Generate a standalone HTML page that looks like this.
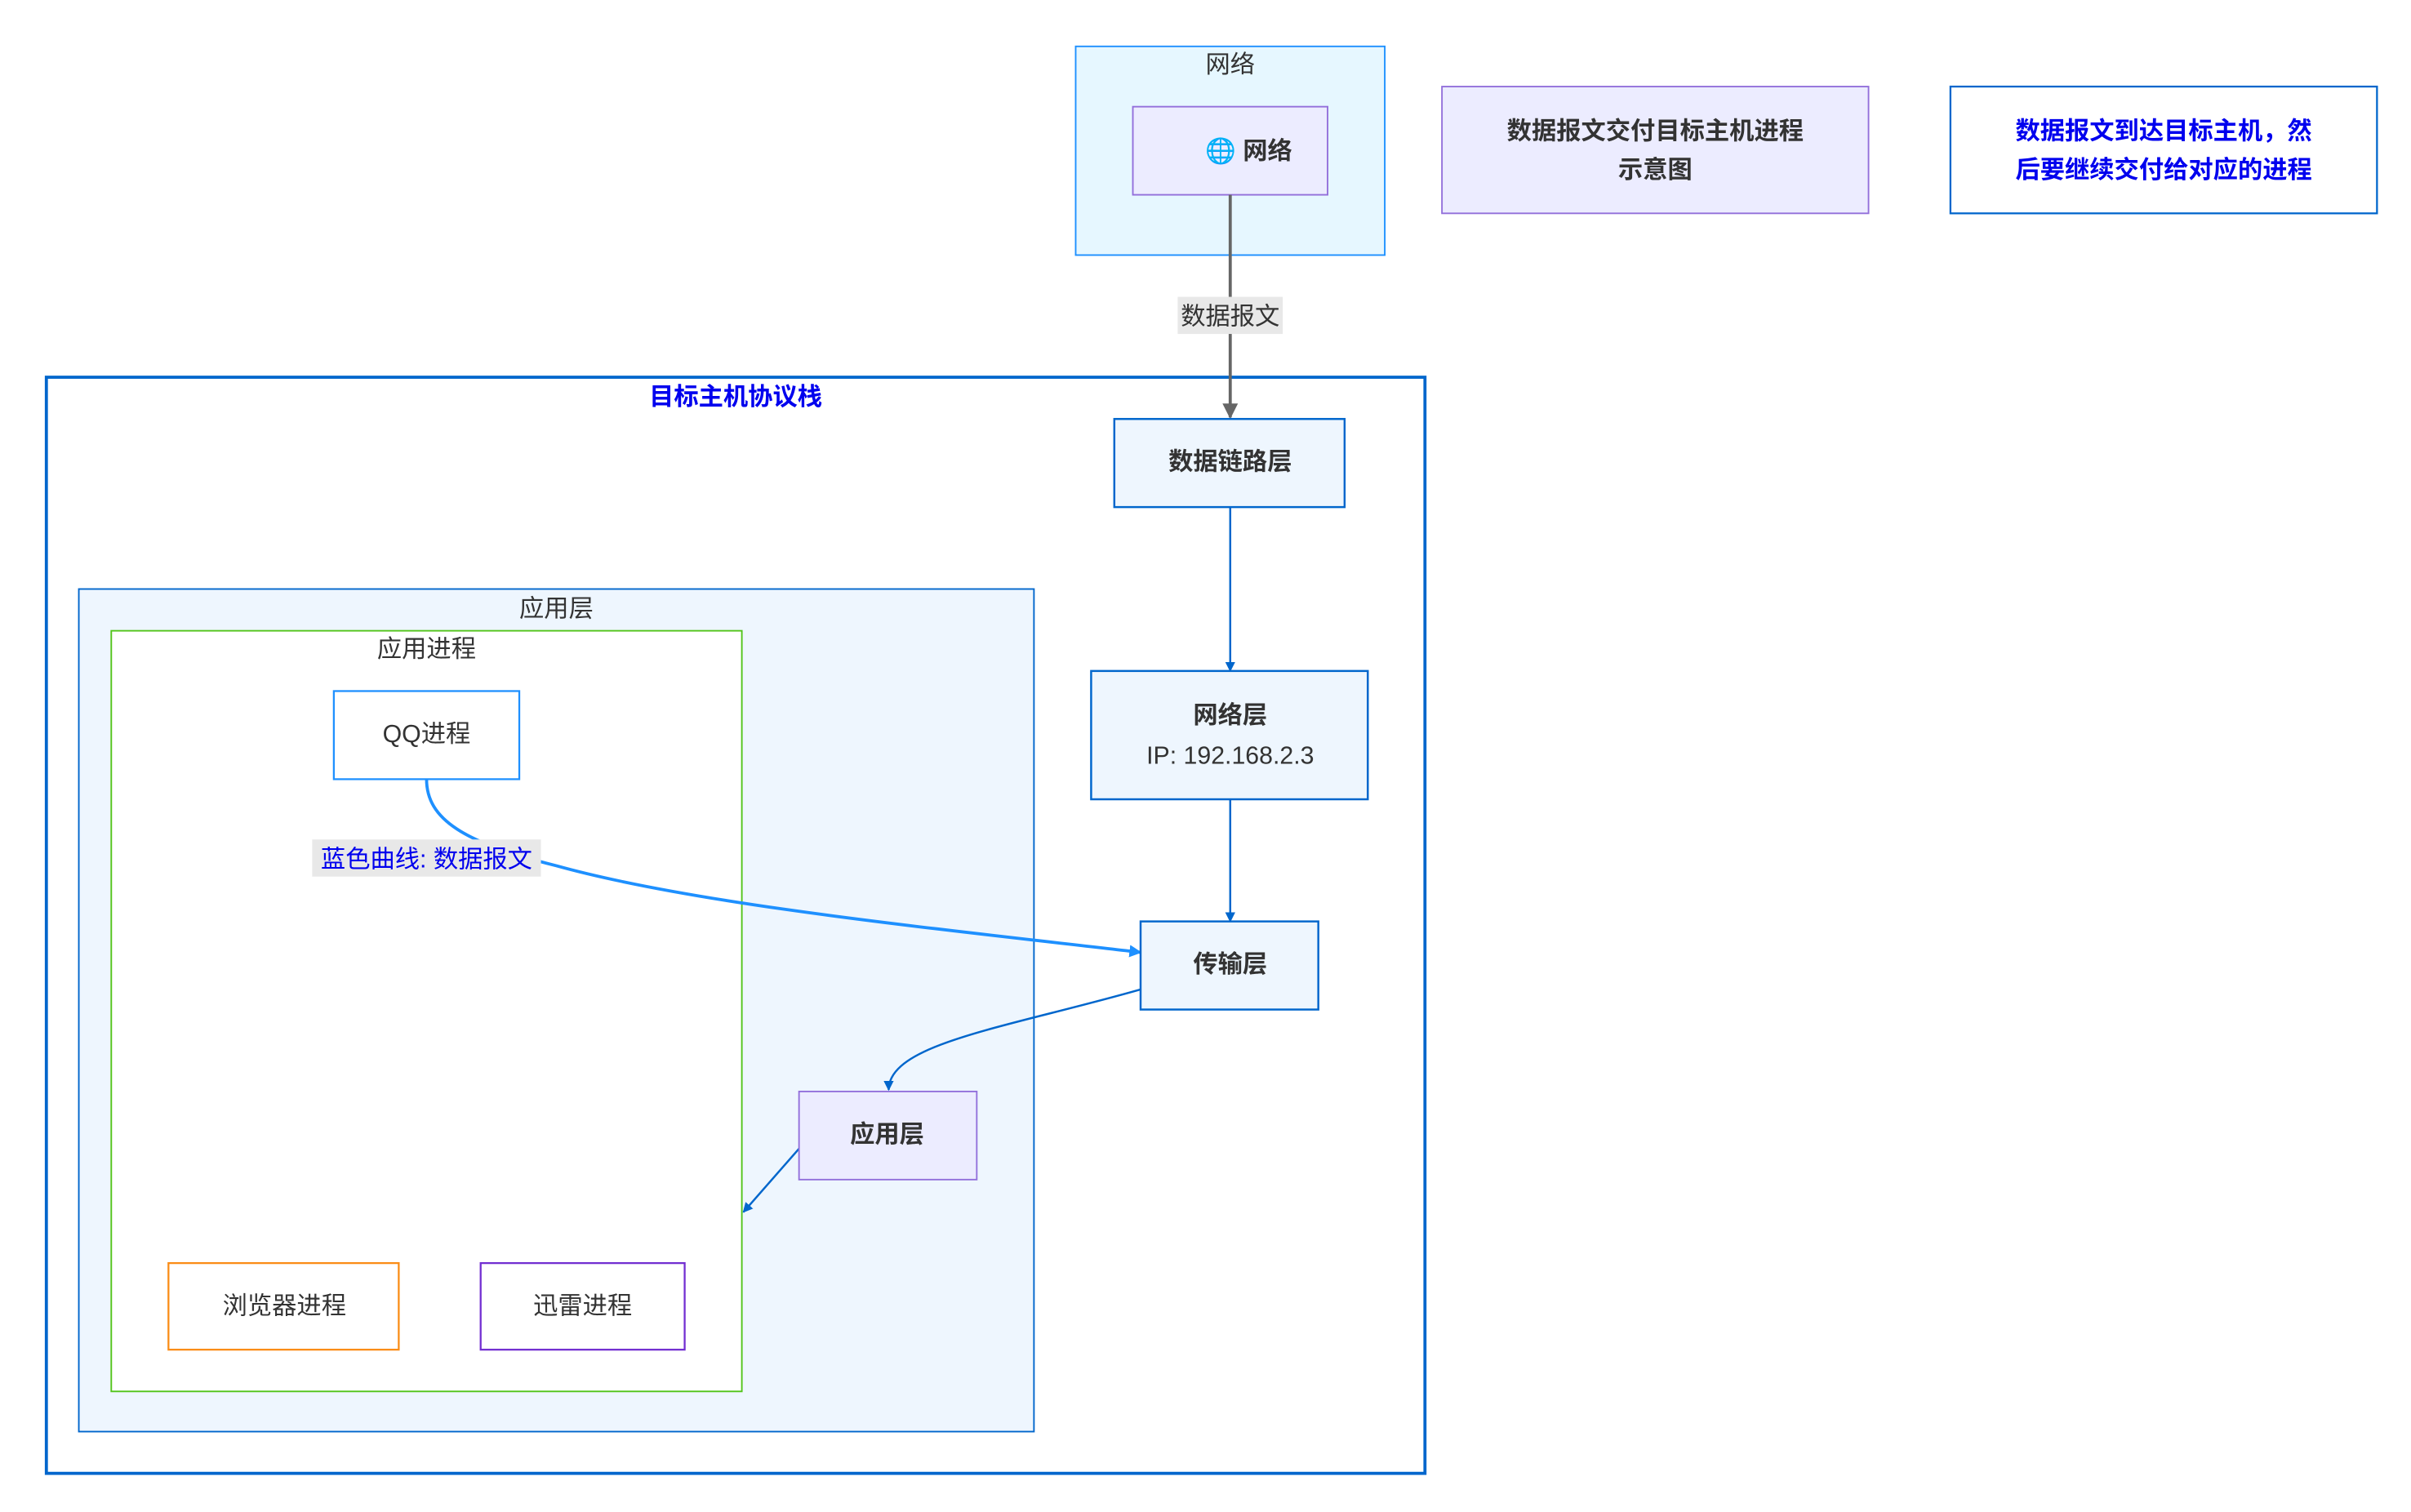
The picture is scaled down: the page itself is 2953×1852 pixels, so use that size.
<!DOCTYPE html>
<html><head><meta charset="utf-8"><style>
html,body{margin:0;padding:0;background:#fff;}
svg{display:block;}
text{font-family:"Liberation Sans","Noto Sans CJK SC",sans-serif;}
</style></head><body>
<svg width="2953" height="1852" viewBox="0 0 1560 978" preserveAspectRatio="none" xmlns="http://www.w3.org/2000/svg">
<defs>
<marker id="ag" viewBox="0 0 10 10" refX="9" refY="5" markerWidth="5" markerHeight="5" orient="auto"><path d="M0,0L10,5L0,10z" fill="#666"/></marker>
<marker id="ab" viewBox="0 0 10 10" refX="9" refY="5" markerWidth="5" markerHeight="5" orient="auto"><path d="M0,0L10,5L0,10z" fill="#0066cc"/></marker>
<marker id="ab2" viewBox="0 0 10 10" refX="9" refY="5" markerWidth="4" markerHeight="4" orient="auto"><path d="M0,0L10,5L0,10z" fill="#1e90ff"/></marker>
</defs>
<!-- network cluster -->
<rect x="696" y="30" width="200" height="135" fill="#e6f7ff" stroke="#1e90ff" stroke-width="1"/>
<text x="796" y="47" font-size="16" fill="#333" text-anchor="middle">网络</text>
<rect x="733" y="69" width="126" height="57" fill="#ececff" stroke="#9370db" stroke-width="1"/>
<text x="808" y="103" font-size="16" font-weight="bold" fill="#333" text-anchor="middle"><tspan fill="#3aa0e8">🌐</tspan> 网络</text>
<!-- notes -->
<rect x="933" y="56" width="276" height="82" fill="#ececff" stroke="#9370db" stroke-width="1"/>
<text x="1071" y="90" font-size="16" font-weight="bold" fill="#333" text-anchor="middle">数据报文交付目标主机进程</text>
<text x="1071" y="115" font-size="16" font-weight="bold" fill="#333" text-anchor="middle">示意图</text>
<rect x="1262" y="56" width="276" height="82" fill="#fff" stroke="#0066cc" stroke-width="1.2"/>
<text x="1400" y="90" font-size="16" font-weight="bold" fill="#0000ee" text-anchor="middle">数据报文到达目标主机，然</text>
<text x="1400" y="115" font-size="16" font-weight="bold" fill="#0000ee" text-anchor="middle">后要继续交付给对应的进程</text>
<!-- stack cluster -->
<rect x="30" y="244" width="892" height="709" fill="#fff" stroke="#0066cc" stroke-width="2"/>
<text x="476" y="262" font-size="16" font-weight="bold" fill="#0000ee" text-anchor="middle">目标主机协议栈</text>
<rect x="51" y="381" width="618" height="545" fill="#eef6fe" stroke="#0066cc" stroke-width="1"/>
<text x="360" y="399" font-size="16" fill="#333" text-anchor="middle">应用层</text>
<rect x="72" y="408" width="408" height="492" fill="#fff" stroke="#52c41a" stroke-width="1"/>
<text x="276" y="425" font-size="16" fill="#333" text-anchor="middle">应用进程</text>
<!-- edges -->
<line x1="796" y1="126" x2="796" y2="270" stroke="#666" stroke-width="2" marker-end="url(#ag)"/>
<rect x="762" y="192" width="68" height="24" fill="#e8e8e8"/>
<text x="796" y="210" font-size="16" fill="#333" text-anchor="middle">数据报文</text>
<line x1="796" y1="328" x2="796" y2="434" stroke="#0066cc" stroke-width="1.3" marker-end="url(#ab)"/>
<line x1="796" y1="517" x2="796" y2="596" stroke="#0066cc" stroke-width="1.3" marker-end="url(#ab)"/>
<path d="M276,504 C276,530 300,545 360,560 C450,585 600,600 738,616" fill="none" stroke="#1e90ff" stroke-width="2" marker-end="url(#ab2)"/>
<rect x="202" y="543" width="148" height="24" fill="#e8e8e8"/>
<text x="276" y="561" font-size="16" fill="#0000ee" text-anchor="middle">蓝色曲线: 数据报文</text>
<path d="M738,640 C650,665 575,675 575,705" fill="none" stroke="#0066cc" stroke-width="1.3" marker-end="url(#ab)"/>
<line x1="517" y1="743" x2="481" y2="784" stroke="#0066cc" stroke-width="1.3" marker-end="url(#ab)"/>
<!-- nodes -->
<rect x="721" y="271" width="149" height="57" fill="#eef6fe" stroke="#0066cc" stroke-width="1.3"/>
<text x="796" y="304" font-size="16" font-weight="bold" fill="#333" text-anchor="middle">数据链路层</text>
<rect x="706" y="434" width="179" height="83" fill="#eef6fe" stroke="#0066cc" stroke-width="1.3"/>
<text x="796" y="468" font-size="16" font-weight="bold" fill="#333" text-anchor="middle">网络层</text>
<text x="796" y="494" font-size="16" fill="#333" text-anchor="middle">IP: 192.168.2.3</text>
<rect x="738" y="596" width="115" height="57" fill="#eef6fe" stroke="#0066cc" stroke-width="1.3"/>
<text x="796" y="629" font-size="16" font-weight="bold" fill="#333" text-anchor="middle">传输层</text>
<rect x="517" y="706" width="115" height="57" fill="#ececff" stroke="#9370db" stroke-width="1"/>
<text x="574" y="739" font-size="16" font-weight="bold" fill="#333" text-anchor="middle">应用层</text>
<rect x="216" y="447" width="120" height="57" fill="#fff" stroke="#1e90ff" stroke-width="1.2"/>
<text x="276" y="480" font-size="16" fill="#333" text-anchor="middle">QQ进程</text>
<rect x="109" y="817" width="149" height="56" fill="#fff" stroke="#fa8c16" stroke-width="1.2"/>
<text x="184" y="850" font-size="16" fill="#333" text-anchor="middle">浏览器进程</text>
<rect x="311" y="817" width="132" height="56" fill="#fff" stroke="#722ed1" stroke-width="1.2"/>
<text x="377" y="850" font-size="16" fill="#333" text-anchor="middle">迅雷进程</text>
</svg>
</body></html>
